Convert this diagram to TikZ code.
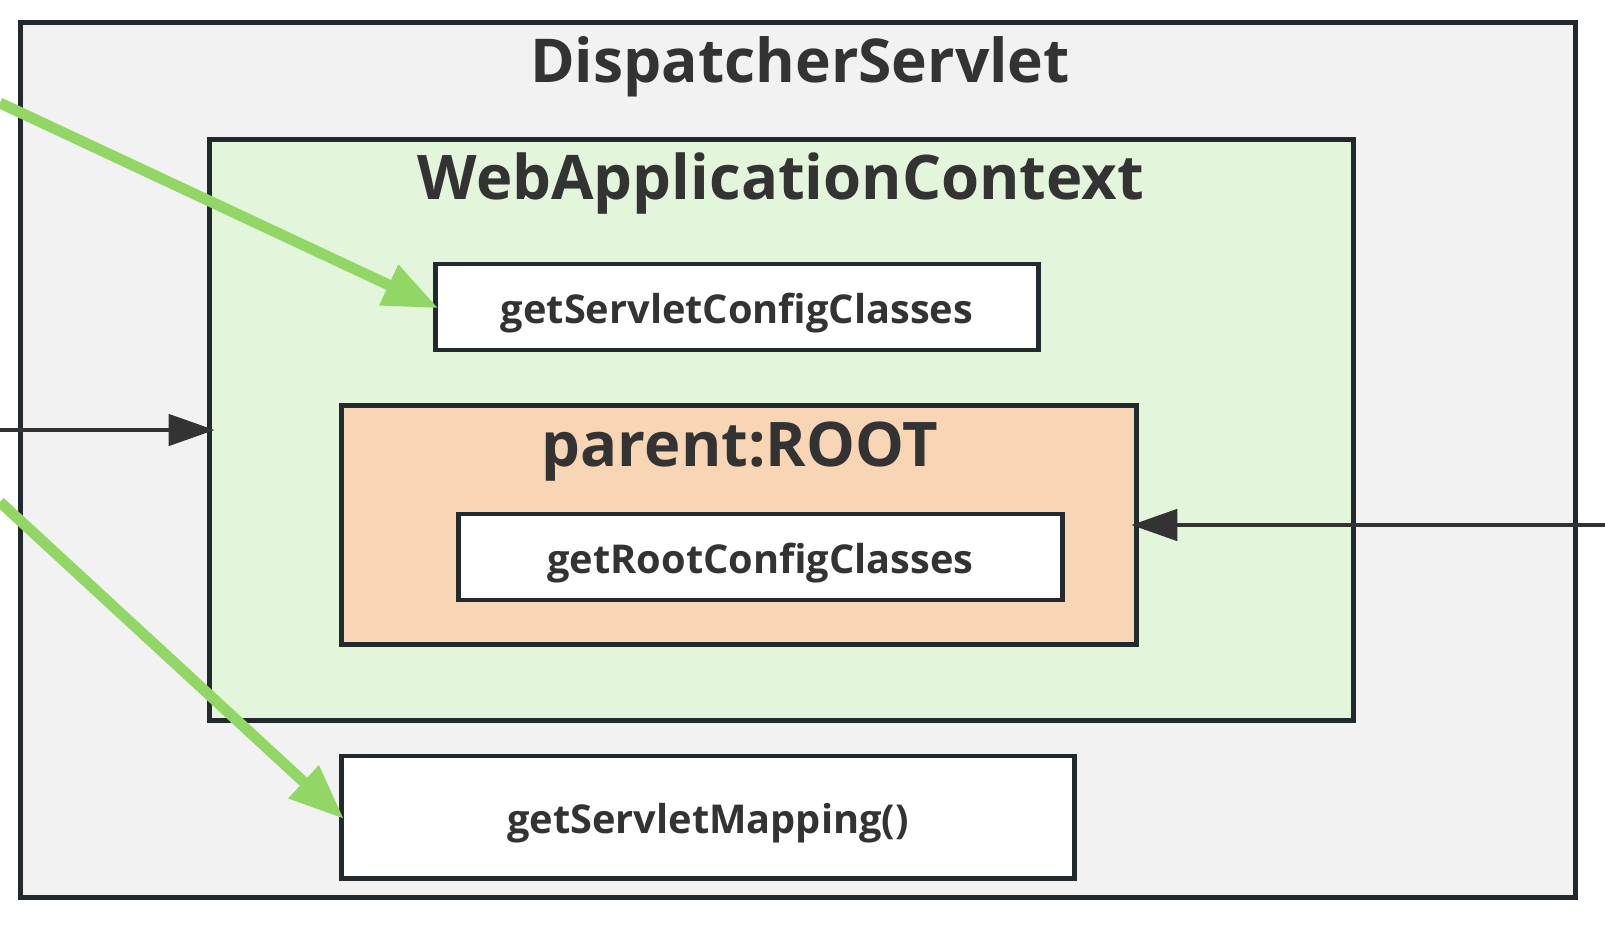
\documentclass[tikz,border=0pt]{standalone}
\usepackage{fontspec}
\setmainfont{Open Sans}
\usetikzlibrary{arrows.meta}
\definecolor{boxline}{HTML}{22292F}
\definecolor{servletgray}{HTML}{F2F2F2}
\definecolor{contextgreen}{HTML}{E3F5DA}
\definecolor{rootorange}{HTML}{F8D5B4}
\definecolor{callgreen}{HTML}{92D765}
\definecolor{textdark}{HTML}{333333}
\tikzset{
  box/.style={draw=boxline, line width=1.4pt, inner sep=0pt, outer sep=0pt},
  method/.style={box, fill=white, text=textdark, text height=11.8pt, text depth=2.7pt,
    font=\bfseries\fontsize{11.3}{13}\selectfont},
  title/.style={text=textdark, anchor=base, inner sep=0pt, font=\bfseries\fontsize{17.5}{20}\selectfont},
  call/.style={draw=callgreen, line width=3.1pt, shorten >=-0.3mm, -{Triangle[length=0.55cm,width=0.42cm]}},
  link/.style={draw=textdark, line width=1.3pt, shorten >=-0.5mm, -{Triangle[length=0.46cm,width=0.31cm]}},
}
\begin{document}
\begin{tikzpicture}[x=0.01cm, y=-0.01cm]
 \useasboundingbox (0,0) rectangle (1605,927);
 \node[box, fill=servletgray, minimum width=15.54cm, minimum height=8.745cm] (servlet) at (798,460) {};
 \node[title, font=\bfseries\fontsize{17.2}{20}\selectfont] (servlettitle) at (800,82) {DispatcherServlet};
 \node[box, fill=contextgreen, minimum width=11.43cm, minimum height=5.80cm] (context) at (781.5,430) {};
 \node[title] (contexttitle) at (781,199) {WebApplicationContext};
 \node[method, minimum width=6.02cm, minimum height=0.86cm] (servletcfg) at (737,307) {getServletConfigClasses};
 \node[box, fill=rootorange, minimum width=7.94cm, minimum height=2.38cm] (root) at (739,525) {};
 \node[title] (roottitle) at (740,466) {parent:ROOT};
 \node[method, minimum width=6.03cm, minimum height=0.86cm] (rootcfg) at (760.5,557) {getRootConfigClasses};
 \node[method, minimum width=7.32cm, minimum height=1.22cm] (mapping) at (708,817) {getServletMapping()};
 % free ends at the picture edge
 \coordinate (cfgin) at (0,103);
 \coordinate (mapin) at (0,502);
 \coordinate (ctxin) at (0,430);
 \coordinate (rootin) at (1605,525);
 \draw[call] (cfgin) -- (servletcfg.west);
 \draw[call] (mapin) -- (mapping.west);
 \draw[link] (ctxin) -- (context.west);
 \draw[link] (rootin) -- (root.east);
\end{tikzpicture}
\end{document}
